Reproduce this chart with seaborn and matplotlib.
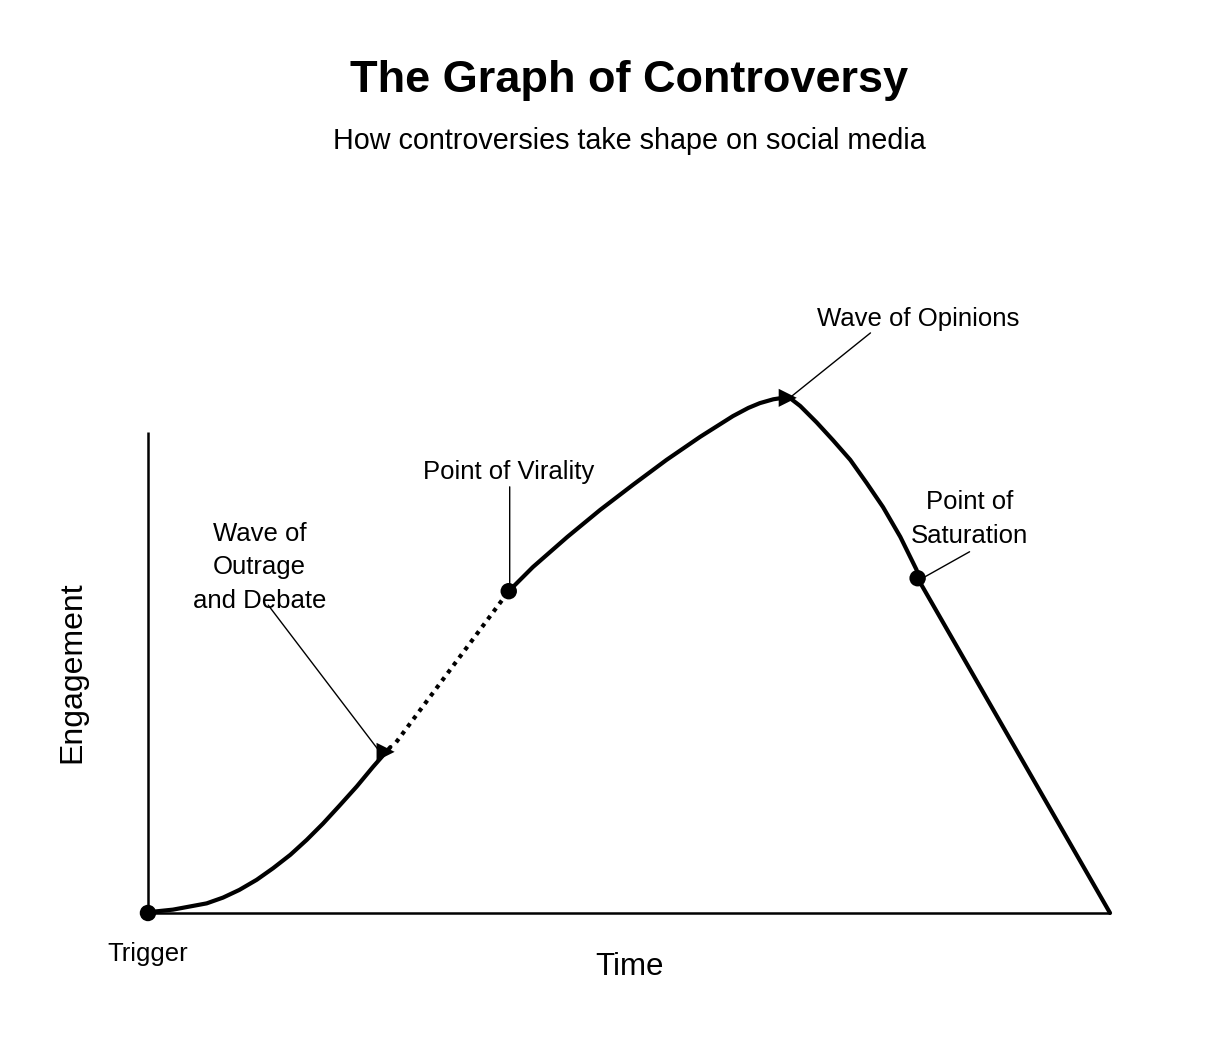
import matplotlib.pyplot as plt
import pandas as pd
import seaborn as sns

# =====================================================
# Data
# =====================================================

# slow start after the trigger
rise_time = [0, 0.2, 2.6, 6.1, 7.8, 9.5, 11.3, 13.0, 14.8, 16.5,
             18.2, 19.9, 21.7, 23.4, 25.2]
rise_engagement = [0, 0.2, 0.7, 2.0, 3.2, 4.8, 6.9, 9.3, 12.1, 15.2,
                   18.6, 22.3, 26.3, 30.4, 34.5]

# dotted stretch up to the point of virality
spread_time = [25.8, 37.5]
spread_engagement = [35.5, 66.9]

# viral peak and decline
viral_time = [37.5, 40.0, 43.6, 47.0, 50.4, 53.9, 57.4, 60.8, 62.4, 63.6,
              65.0, 66.0, 66.7, 67.8, 69.5, 71.2, 73.0, 74.7, 76.4, 78.2,
              79.9, 80.0, 100]
viral_engagement = [66.9, 71.9, 78.2, 83.8, 89.0, 94.2, 99.0, 103.3, 105.0,
                    106.0, 106.8, 107.1, 107.1, 105.4, 102.0, 98.3, 94.2,
                    89.4, 84.4, 78.2, 71.3, 69.6, 0]

point_names = ["Trigger", "Point of Virality", "Point of Saturation"]
point_time = [0, 37.5, 80.0]
point_engagement = [0, 66.9, 69.6]

arrow_time = [24.7, 66.5]
arrow_engagement = [33.5, 107.1]

axis_max = 100

labels = ["Point of Virality", "Wave of Opinions", "Point of\nSaturation",
          "Wave of\nOutrage\nand Debate"]
label_time = [37.5, 80.1, 85.4, 11.6]
label_engagement = [91.7, 123.5, 81.9, 71.9]
leader_start = [(37.6, 88.6), (75.1, 120.6), (85.4, 75.1), (12.5, 64.0)]
leader_end = [(37.6, 67.6), (66.7, 107.1), (80.5, 69.6), (24.1, 33.5)]

# =====================================================
# Figure
# =====================================================

sns.set_style("white")
plt.rcParams["font.family"] = ["Liberation Sans", "DejaVu Sans"]
plt.rcParams["text.color"] = "black"

fig = plt.figure(figsize=(12.2, 10.42), dpi=100)
ax = fig.add_axes([0, 0, 1, 1])
ax.set_xlim(-15.38, 111.43)
ax.set_ylim(-26.82, 189.81)
ax.axis("off")

# axes drawn as lines
ax.plot([0, 0], [0, axis_max], color="black", lw=1.8, solid_capstyle="butt")
ax.plot([0, axis_max], [0, 0], color="black", lw=1.8, solid_capstyle="butt")

rise = pd.DataFrame({"time": rise_time, "engagement": rise_engagement})
spread = pd.DataFrame({"time": spread_time, "engagement": spread_engagement})
viral = pd.DataFrame({"time": viral_time, "engagement": viral_engagement})

sns.lineplot(data=rise, x="time", y="engagement", sort=False,
             color="black", lw=3, ax=ax, solid_joinstyle="round")
sns.lineplot(data=spread, x="time", y="engagement", sort=False,
             color="black", lw=3, ax=ax, linestyle=(0, (1, 1.3)))
sns.lineplot(data=viral, x="time", y="engagement", sort=False,
             color="black", lw=3, ax=ax, solid_joinstyle="round")

points = pd.DataFrame({"name": point_names, "time": point_time,
                       "engagement": point_engagement})
sns.scatterplot(data=points, x="time", y="engagement", color="black",
                s=140, ax=ax, zorder=5, edgecolor="none")

arrows = pd.DataFrame({"time": arrow_time, "engagement": arrow_engagement})
sns.scatterplot(data=arrows, x="time", y="engagement", color="black",
                marker=">", s=170, ax=ax, zorder=5, edgecolor="none")

# =====================================================
# Labels
# =====================================================

for text, tx, ty, start, end in zip(labels, label_time, label_engagement,
                                    leader_start, leader_end):
    ax.text(tx, ty, text, ha="center", va="center", fontsize=18.5,
            linespacing=1.5)
    ax.annotate("", xy=end, xytext=start,
                arrowprops=dict(arrowstyle="-", color="black", lw=1,
                                shrinkA=0, shrinkB=0))

ax.text(0, -8.5, "Trigger", ha="center", va="center", fontsize=18.5)
ax.text(50.1, -11.2, "Time", ha="center", va="center", fontsize=22.5)
ax.text(-7.9, 50.1, "Engagement", ha="center", va="center",
        fontsize=23, rotation=90)

fig.text(0.516, 0.923, "The Graph of Controversy", ha="center",
         va="center", fontsize=32.5, fontweight="bold")
fig.text(0.516, 0.865, "How controversies take shape on social media",
         ha="center", va="center", fontsize=20.7)

plt.savefig("out.png", dpi=100)
plt.close()
